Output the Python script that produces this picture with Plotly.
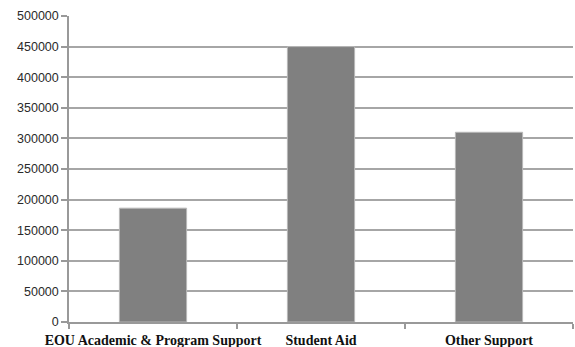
import plotly.graph_objects as go

categories = ["EOU Academic & Program Support", "Student Aid", "Other Support"]
amounts = [186000, 450000, 310000]
y_ticks = list(range(0, 500001, 50000))

fig = go.Figure(
    go.Bar(
        x=categories,
        y=amounts,
        marker=dict(color="#808080", line=dict(color="#b8b8b8", width=1)),
        width=0.4,
    )
)

fig.update_layout(
    width=575,
    height=347,
    margin=dict(l=69, r=2, t=16, b=25),
    paper_bgcolor="white",
    plot_bgcolor="white",
    showlegend=False,
)

fig.update_xaxes(
    type="category",
    showline=True,
    linecolor="#999999",
    linewidth=1.5,
    ticks="outside",
    tickson="boundaries",
    ticklen=5,
    tickcolor="#999999",
    tickwidth=1.5,
    showgrid=False,
    tickangle=0,
    automargin=False,
    ticklabelstandoff=4,
    tickfont=dict(family="Liberation Serif", size=14, color="#111111", weight="bold"),
)

fig.update_yaxes(
    range=[0, 500000],
    tickvals=y_ticks,
    ticktext=[str(v) for v in y_ticks],
    showline=True,
    linecolor="#999999",
    linewidth=1.5,
    ticks="outside",
    ticklen=6,
    tickcolor="#999999",
    tickwidth=1.5,
    showgrid=True,
    gridcolor="#a6a6a6",
    gridwidth=1.5,
    zeroline=False,
    automargin=False,
    tickfont=dict(family="Liberation Sans", size=12.5, color="#2a2a2a"),
)

fig.write_html("out.html")
